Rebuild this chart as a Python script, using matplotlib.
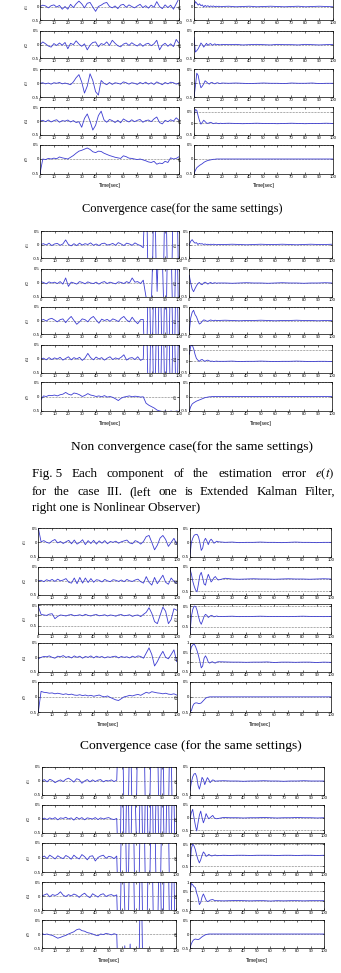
import matplotlib.pyplot as plt
import numpy as np

plt.rcParams['font.family'] = ['Liberation Sans', 'DejaVu Sans']
plt.rcParams['mathtext.fontset'] = 'stix'

W, H = 341, 973

# time grids (EKF sampled every 2 s, observer denser at the start)
t_ekf = np.arange(0, 101, 2)
t_obs = np.concatenate([np.arange(0, 21), np.arange(25, 101, 5)])

# ---------------- panel 1 : convergence case ----------------
p1_ekf_e1 = [0.0, 0.05, 0.02, -0.05, 0.03, 0.06, -0.02, 0.04, -0.1, 0.0,
             -0.1, 0.08, -0.04, 0.1, 0.2, 0.1, -0.05, 0.12, 0.15, -0.02,
             -0.18, 0.0, 0.05, 0.12, 0.15, 0.0, -0.05, 0.02, -0.08, 0.05,
             0.08, -0.03, 0.06, 0.0, -0.05, 0.02, 0.08, -0.04, 0.03, -0.06,
             0.05, -0.03, 0.18, 0.0, -0.08, 0.06, -0.04, 0.05, -0.1, 0.1,
             0.3]
p1_ekf_e2 = [0.0, 0.1, 0.03, -0.05, -0.09, 0.04, -0.03, 0.06, -0.02, 0.08,
             -0.15, 0.05, 0.0, 0.14, 0.02, -0.06, 0.03, -0.19, -0.02, 0.08,
             0.1, -0.08, 0.04, 0.0, 0.1, -0.03, 0.16, 0.05, -0.04, -0.08,
             0.02, 0.06, -0.03, 0.07, 0.0, -0.05, 0.04, -0.06, 0.02, 0.05,
             -0.04, 0.03, 0.16, -0.19, -0.02, 0.05, -0.06, 0.03, -0.07, 0.19,
             0.05]
p1_ekf_e3 = [0.0, 0.02, -0.02, 0.01, -0.03, 0.02, 0.0, 0.03, -0.02, 0.01,
             -0.02, -0.05, 0.05, 0.2, 0.31, 0.05, -0.35, -0.1, 0.34, 0.1,
             -0.3, -0.42, 0.1, 0.0, -0.05, 0.03, -0.04, 0.02, 0.0, -0.03,
             0.05, 0.02, -0.03, 0.02, 0.0, -0.04, 0.03, -0.02, 0.04, -0.03,
             0.02, -0.04, 0.05, 0.0, -0.05, 0.03, -0.02, 0.04, 0.02, -0.03,
             0.0]
p1_ekf_e4 = [0.0, 0.03, -0.02, 0.04, -0.03, 0.02, 0.05, -0.04, 0.02, 0.0,
             0.04, -0.03, 0.02, -0.05, -0.02, -0.22, 0.1, 0.26, 0.0, -0.32,
             -0.15, 0.2, 0.36, 0.05, -0.04, 0.06, 0.02, -0.05, 0.03, -0.06,
             0.08, 0.02, -0.03, 0.05, -0.02, 0.03, 0.06, -0.04, 0.02, 0.04,
             -0.02, 0.08, 0.15, -0.05, -0.1, 0.03, -0.02, 0.05, 0.0, 0.12,
             0.03]
p1_ekf_e5 = [-0.5, 0.0, -0.02, 0.02, 0.0, 0.03, 0.01, 0.07, 0.04, 0.02,
             0.0, 0.06, 0.12, 0.2, 0.27, 0.3, 0.34, 0.38, 0.33, 0.25,
             0.22, 0.27, 0.26, 0.2, 0.16, 0.12, 0.09, 0.06, 0.04, 0.02,
             0.11, 0.08, 0.03, 0.02, 0.0, -0.02, 0.0, -0.03, -0.06, -0.1,
             -0.12, -0.08, -0.18, -0.14, -0.16, -0.08, -0.12, 0.04, 0.0, 0.02,
             0.08]
p1_obs_e1 = [0.0, 0.18, 0.12, 0.05, 0.1, 0.03, 0.06, -0.02, 0.04, 0.0, 0.03,
             -0.01, 0.02, 0.0, 0.02, -0.01, 0.01, 0.0, 0.01, -0.01, 0.0,
             0.01, -0.01, 0.0, 0.01, -0.01, 0.0, 0.01, 0.0, -0.01, 0.0, 0.01, -0.01, 0.0, 0.01, 0.0, -0.01]
p1_obs_e2 = [0.26, -0.27, -0.22, -0.15, -0.05, 0.06, 0.0, -0.09, -0.02, 0.05, -0.03,
             0.02, 0.04, -0.02, 0.0, 0.03, -0.01, 0.01, 0.0, -0.01, 0.01,
             0.0, 0.01, -0.01, 0.0, 0.01, 0.0, -0.01, 0.01, 0.0, 0.0, -0.01, 0.01, 0.0, -0.01, 0.0, 0.01]
p1_obs_e3 = [-0.5, -0.1, 0.36, 0.28, 0.02, -0.16, -0.1, -0.02, 0.09, 0.05, 0.0,
             -0.03, 0.02, 0.03, 0.0, -0.02, 0.01, 0.02, 0.0, -0.01, 0.01,
             0.0, 0.01, 0.0, -0.01, 0.0, 0.01, 0.0, 0.0, -0.01, 0.01, 0.0, 0.0, 0.01, -0.01, 0.0, 0.0]
p1_obs_e4 = [0.39, 0.6, 0.57, 0.32, 0.11, -0.03, 0.05, 0.14, 0.08, 0.02, 0.0,
             0.03, 0.05, 0.02, -0.01, 0.01, 0.02, 0.0, -0.01, 0.01, 0.0,
             0.01, 0.0, -0.01, 0.0, 0.01, 0.0, 0.0, -0.01, 0.0, 0.01, 0.0, -0.01, 0.0, 0.0, 0.01, 0.0]
p1_obs_e5 = [-0.5, -0.39, -0.3, -0.26, -0.22, -0.19, -0.16, -0.12, -0.09, -0.07, -0.05,
             -0.04, -0.03, -0.02, -0.01, -0.01, 0.0, 0.0, 0.0, 0.0, 0.0,
             0.0, 0.0, 0.0, 0.0, 0.0, 0.0, 0.0, 0.0, 0.0, 0.0, 0.0, 0.0, 0.0, 0.0, 0.0, 0.0]

# ---------------- panel 2 : non convergence case ----------------
p2_ekf_e1 = [0.0, 0.03, -0.02, 0.05, -0.04, 0.02, 0.04, -0.03, 0.02, 0.17,
             0.0, -0.05, 0.03, -0.04, 0.05, -0.02, 0.03, 0.0, 0.06, -0.03,
             0.02, -0.04, 0.03, 0.05, -0.02, 0.0, 0.04, -0.03, 0.07, 0.02,
             -0.04, 0.05, 0.02, -0.03, 0.06, 0.0, -0.04, -0.12, 3.0, -3.0,
             -3.0, 3.0, -3.0, -3.0, -3.0, 3.0, -3.0, -3.0, 3.0, 3.0,
             -3.0]
p2_ekf_e2 = [0.05, 0.02, -0.03, 0.04, 0.0, 0.03, -0.02, 0.05, -0.04, 0.18,
             -0.12, 0.03, 0.0, -0.04, 0.05, 0.02, -0.03, 0.04, 0.0, -0.02,
             0.03, -0.04, 0.02, 0.05, -0.02, 0.03, 0.0, -0.03, 0.04, 0.02,
             -0.02, 0.05, 0.0, 0.18, 0.03, 0.05, -0.02, 0.1, -0.5, -0.55,
             -0.5, 3.0, -0.3, 3.0, 0.5, -3.0, 3.0, 1.5, -3.0, 3.0,
             -3.0]
p2_ekf_e3 = [0.0, 0.04, -0.02, 0.05, 0.08, 0.02, -0.05, 0.03, 0.06, -0.08,
             0.05, 0.15, 0.0, -0.14, -0.05, 0.06, 0.03, -0.05, 0.08, 0.15,
             0.02, -0.1, 0.05, 0.0, 0.04, -0.03, 0.06, 0.02, -0.04, 0.08,
             0.15, 0.02, -0.05, 0.12, -0.02, -0.12, 0.03, 0.04, -3.0, 3.0,
             -3.0, 3.0, -3.0, 3.0, -3.0, 3.0, -3.0, 3.0, -3.0, 3.0,
             -3.0]
p2_ekf_e4 = [0.0, 0.03, -0.03, 0.05, -0.02, 0.04, 0.0, 0.06, -0.04, 0.02,
             0.08, -0.03, 0.05, 0.0, 0.06, -0.05, 0.04, 0.2, 0.05, -0.03,
             0.07, 0.0, 0.05, -0.04, 0.03, 0.08, -0.02, 0.04, 0.0, 0.06,
             0.15, -0.04, 0.03, 0.05, -0.02, 0.08, -0.05, 0.0, 3.0, -3.0,
             3.0, -3.0, 3.0, -3.0, 3.0, -3.0, 3.0, -3.0, 3.0, -3.0,
             3.0]
p2_ekf_e5 = [-0.12, 0.02, 0.0, 0.04, 0.03, 0.05, 0.02, 0.06, 0.08, 0.14,
             0.08, 0.05, 0.12, 0.1, 0.06, 0.0, 0.04, 0.1, 0.05, 0.03,
             0.0, 0.02, -0.01, 0.03, -0.02, 0.0, -0.03, -0.08, -0.14, -0.06,
             -0.02, 0.0, 0.02, -0.01, 0.01, 0.0, -0.02, -0.01, -0.23, -0.3,
             -0.35, -0.4, -0.47, -0.5, -0.52, -0.5, -0.55, -0.5, -0.53, -0.5,
             -0.52]
p2_obs_e1 = [0.0, 0.12, 0.18, 0.1, 0.05, 0.07, 0.0, 0.04, 0.02, 0.03, 0.0,
             0.02, 0.0, 0.01, -0.01, 0.01, 0.0, 0.01, 0.0, -0.01, 0.0,
             0.0, 0.01, 0.0, -0.01, 0.0, 0.01, 0.0, 0.0, 0.01, 0.0, -0.01, 0.0, 0.01, 0.0, 0.0, 0.01]
p2_obs_e2 = [0.27, 0.0, -0.22, -0.31, -0.2, -0.1, -0.02, 0.02, -0.04, -0.06, 0.0,
             0.03, 0.0, -0.04, 0.0, 0.02, -0.02, 0.0, 0.01, -0.01, 0.0,
             0.0, -0.01, 0.0, 0.01, 0.0, 0.0, -0.01, 0.0, 0.01, 0.0, 0.0, -0.01, 0.0, 0.0, 0.01, 0.0]
p2_obs_e3 = [-0.4, 0.1, 0.3, 0.38, 0.22, 0.14, 0.0, -0.13, -0.1, -0.03, 0.02,
             0.01, -0.02, -0.03, 0.0, 0.02, 0.0, -0.01, 0.01, 0.0, 0.0,
             0.01, 0.0, -0.01, 0.0, 0.0, 0.01, 0.0, -0.01, 0.0, 0.0, 0.01, 0.0, 0.0, -0.01, 0.0, 0.0]
p2_obs_e4 = [0.3, 0.65, 0.7, 0.55, 0.3, 0.12, 0.05, 0.0, 0.06, 0.08, 0.03,
             0.0, 0.04, 0.05, 0.02, 0.0, 0.01, -0.01, 0.0, 0.01, 0.0,
             0.0, 0.01, -0.01, 0.0, 0.0, 0.01, 0.0, -0.01, 0.0, 0.0, 0.01, 0.0, -0.01, 0.0, 0.0, -0.01]
p2_obs_e5 = [-0.5, -0.35, -0.26, -0.22, -0.19, -0.16, -0.14, -0.12, -0.1, -0.08, -0.06,
             -0.04, -0.03, -0.02, -0.01, -0.01, 0.0, 0.0, 0.0, 0.0, 0.0,
             0.0, 0.0, 0.0, 0.0, 0.0, 0.0, 0.0, 0.0, 0.0, 0.0, 0.0, 0.0, 0.0, 0.0, 0.0, 0.0]

# ---------------- panel 3 : convergence case ----------------
p3_ekf_e1 = [0.5, 0.02, 0.06, 0.0, -0.03, 0.05, 0.1, -0.02, 0.03, -0.04,
             0.02, 0.07, -0.05, 0.08, -0.06, 0.0, 0.09, -0.08, 0.06, -0.04,
             0.07, -0.06, 0.05, -0.03, 0.06, -0.05, 0.03, 0.0, 0.04, -0.03,
             0.02, 0.05, 0.08, -0.02, -0.05, 0.06, 0.02, -0.06, 0.03, 0.2,
             0.24, 0.0, -0.26, -0.1, 0.15, 0.24, 0.1, -0.14, 0.0, 0.14,
             -0.06]
p3_ekf_e2 = [0.0, 0.02, -0.03, 0.04, 0.0, 0.05, -0.02, 0.06, 0.0, 0.03,
             0.08, -0.05, -0.08, 0.1, -0.1, 0.12, -0.08, 0.1, -0.06, 0.08,
             -0.05, 0.04, 0.02, -0.04, 0.05, 0.0, -0.03, 0.04, 0.02, -0.02,
             0.03, -0.03, 0.05, 0.0, -0.02, 0.03, 0.06, -0.03, -0.08, 0.15,
             -0.05, -0.15, 0.12, -0.1, 0.05, 0.2, -0.05, -0.12, 0.1, -0.02,
             -0.08]
p3_ekf_e3 = [0.43, 0.05, 0.02, 0.0, 0.06, 0.08, -0.16, -0.05, 0.02, 0.0,
             -0.03, 0.02, 0.04, -0.02, 0.0, 0.03, -0.02, 0.05, 0.0, -0.03,
             0.02, 0.04, -0.02, 0.0, 0.03, -0.03, 0.02, 0.0, -0.04, 0.02,
             0.04, -0.02, 0.0, 0.03, -0.05, 0.0, 0.02, -0.06, 0.05, 0.15,
             0.37, 0.1, -0.3, -0.4, 0.0, 0.4, 0.2, -0.4, -0.2, 0.32,
             0.25]
p3_ekf_e4 = [-0.05, 0.0, 0.03, 0.02, 0.05, 0.0, -0.03, 0.04, 0.02, 0.06,
             0.0, 0.03, -0.02, 0.05, 0.0, 0.04, -0.03, 0.03, 0.0, 0.05,
             -0.02, 0.04, 0.0, 0.03, -0.02, 0.02, 0.0, 0.03, 0.04, -0.02,
             0.03, 0.0, 0.02, -0.02, 0.04, 0.0, 0.05, 0.03, -0.03, 0.15,
             0.33, 0.1, -0.3, -0.15, 0.05, 0.21, 0.0, -0.05, 0.1, 0.26,
             -0.15]
p3_ekf_e5 = [-0.5, 0.18, 0.15, 0.14, 0.12, 0.13, 0.1, 0.12, 0.1, 0.08,
             0.1, 0.07, 0.09, 0.06, 0.05, 0.07, 0.04, 0.06, 0.03, 0.05,
             0.02, 0.04, 0.06, 0.02, 0.0, 0.03, -0.02, -0.06, -0.1, -0.12,
             -0.06, 0.0, 0.02, 0.05, 0.03, 0.06, 0.08, 0.05, 0.1, 0.15,
             0.12, 0.17, 0.15, 0.13, 0.12, 0.1, 0.12, 0.09, 0.08, 0.1,
             0.06]
p3_obs_e1 = [-0.45, 0.0, 0.15, 0.25, 0.27, 0.28, 0.2, 0.0, -0.28, -0.2, 0.05,
             0.14, 0.05, -0.08, 0.05, 0.11, 0.05, -0.03, 0.0, 0.04, 0.02,
             0.0, 0.01, -0.01, 0.0, 0.0, 0.01, 0.0, 0.0, -0.01, 0.0, 0.01, 0.0, 0.0, -0.01, 0.0, 0.0]
p3_obs_e2 = [0.4, 0.2, -0.1, -0.3, -0.45, -0.52, -0.2, 0.15, 0.27, 0.05, -0.2,
             -0.25, 0.0, 0.19, 0.05, -0.12, -0.05, 0.05, 0.1, 0.02, -0.04,
             0.03, 0.0, -0.01, 0.0, 0.01, 0.0, 0.0, -0.01, 0.0, 0.01, 0.0, 0.0, -0.01, 0.0, 0.01, 0.0]
p3_obs_e3 = [-0.8, 0.0, 0.35, 0.5, 0.48, 0.3, 0.0, -0.25, -0.38, -0.2, 0.0,
             0.1, 0.05, -0.05, 0.0, 0.05, 0.03, -0.02, 0.0, 0.02, 0.0,
             0.0, 0.01, -0.01, 0.0, 0.0, 0.01, 0.0, 0.0, 0.0, -0.01, 0.0, 0.01, 0.0, 0.0, -0.01, 0.0]
p3_obs_e4 = [0.5, 0.8, 0.9, 0.95, 0.8, 0.6, 0.35, 0.05, -0.3, -0.2, 0.2,
             0.33, 0.2, 0.0, -0.05, 0.0, 0.02, -0.03, -0.05, 0.0, 0.02,
             0.01, 0.0, 0.0, -0.01, 0.0, 0.0, 0.01, -0.02, 0.0, 0.0, -0.01, 0.0, 0.0, -0.02, 0.0, -0.01]
p3_obs_e5 = [-0.5, -0.45, -0.3, -0.22, -0.2, -0.2, -0.22, -0.22, -0.2, -0.15, -0.1,
             -0.05, -0.02, -0.01, 0.0, 0.0, 0.0, 0.0, 0.0, 0.0, 0.0,
             0.0, 0.0, 0.0, 0.0, 0.0, 0.0, 0.0, 0.0, 0.0, 0.0, 0.0, 0.0, 0.0, 0.0, 0.0, 0.0]

# ---------------- panel 4 : non convergence case ----------------
p4_ekf_e1 = [0.0, 0.05, -0.03, 0.06, 0.02, -0.06, 0.0, 0.04, -0.02, 0.06,
             0.1, 0.04, -0.04, 0.08, 0.05, -0.08, 0.0, 0.05, -0.03, 0.04,
             -0.02, 0.03, 0.05, -0.03, 0.02, 0.0, 0.04, -0.02, 0.03, 3.0,
             3.0, -3.0, -3.0, 3.0, -3.0, -3.0, 3.0, 3.0, 3.0, -3.0,
             -3.0, 3.0, 3.0, 3.0, -3.0, 3.0, -3.0, -3.0, 3.0, -3.0,
             -3.0]
p4_ekf_e2 = [0.0, 0.03, -0.02, 0.04, 0.0, 0.05, -0.03, 0.04, 0.02, 0.06,
             0.0, 0.04, -0.04, 0.06, 0.0, 0.05, -0.03, 0.04, 0.02, 0.0,
             0.05, -0.02, 0.04, 0.0, 0.03, 0.05, 0.0, -0.02, 0.02, -3.0,
             3.0, -3.0, 3.0, -3.0, 3.0, 0.4, -3.0, 3.0, -3.0, 3.0,
             -3.0, 3.0, -3.0, 3.0, -3.0, 3.0, -3.0, 3.0, -3.0, 3.0,
             -3.0]
p4_ekf_e3 = [0.0, 0.05, -0.04, 0.08, 0.02, -0.05, 0.06, 0.0, -0.04, 0.07,
             0.02, -0.06, 0.08, 0.0, -0.05, 0.1, 0.03, -0.08, 0.04, 0.06,
             -0.12, 0.0, 0.05, 0.08, -0.03, 0.04, 0.02, -0.04, 0.05, -3.0,
             3.0, 3.0, -3.0, 3.0, 3.0, -3.0, -3.0, 3.0, 3.0, -3.0,
             -3.0, 3.0, 3.0, -3.0, -3.0, 3.0, 3.0, 3.0, -3.0, -3.0,
             -3.0]
p4_ekf_e4 = [0.0, 0.04, 0.08, -0.03, 0.05, 0.02, 0.06, 0.15, 0.03, -0.02,
             0.05, 0.0, 0.07, 0.03, -0.05, 0.04, 0.1, 0.0, -0.06, 0.08,
             0.02, -0.04, 0.05, 0.08, -0.02, 0.03, 0.05, 0.0, 0.04, -3.0,
             3.0, -0.45, -3.0, 3.0, 3.0, -3.0, -3.0, 3.0, -3.0, -3.0,
             3.0, 3.0, -3.0, -3.0, 3.0, -3.0, 3.0, 3.0, -3.0, 3.0,
             -3.0]
p4_ekf_e5 = [0.02, -0.02, 0.0, -0.03, -0.05, -0.1, -0.15, -0.12, -0.08, -0.05,
             0.0, 0.04, 0.08, 0.15, 0.18, 0.12, 0.1, 0.05, 0.03, 0.0,
             -0.04, -0.06, 0.0, -0.02, 0.02, 0.0, -0.03, 0.01, -0.02, -3.0,
             -3.0, -0.42, -3.0, -0.36, -3.0, -3.0, -3.0, 3.0, -3.0, -3.0,
             -3.0, -3.0, -3.0, -3.0, -3.0, -3.0, -3.0, -3.0, -3.0, -3.0,
             -3.0]
p4_obs_e1 = [-0.35, -0.05, 0.15, 0.25, 0.27, 0.15, -0.15, -0.29, -0.1, 0.13, 0.05,
             -0.13, 0.0, 0.12, 0.05, -0.06, 0.0, 0.04, 0.02, -0.01, 0.0,
             0.01, 0.0, 0.0, -0.01, 0.0, 0.0, 0.01, 0.0, 0.0, -0.01, 0.0, 0.0, 0.01, 0.0, 0.0, 0.0]
p4_obs_e2 = [-0.05, 0.2, 0.33, 0.0, -0.3, -0.52, -0.2, 0.1, 0.26, 0.0, -0.2,
             -0.05, 0.16, 0.05, -0.04, 0.0, 0.05, 0.09, 0.0, -0.03, -0.04,
             0.01, 0.0, 0.0, -0.01, 0.0, 0.0, 0.01, 0.0, -0.01, 0.0, 0.0, 0.01, 0.0, 0.0, -0.01, 0.0]
p4_obs_e3 = [-0.62, 0.3, 0.5, 0.42, 0.25, 0.0, -0.2, -0.34, -0.2, 0.0, 0.15,
             0.08, -0.05, -0.02, 0.04, 0.0, -0.03, -0.02, 0.0, 0.01, -0.02,
             0.0, -0.01, 0.0, 0.0, -0.01, 0.0, 0.0, 0.0, -0.01, 0.0, 0.0, -0.01, 0.0, 0.0, -0.01, 0.0]
p4_obs_e4 = [0.45, 0.92, 0.85, 0.75, 0.7, 0.4, 0.18, -0.21, -0.1, 0.2, 0.36,
             0.2, 0.03, -0.05, -0.02, 0.03, 0.05, 0.06, 0.02, 0.0, 0.0,
             -0.01, 0.0, 0.01, 0.0, -0.01, 0.0, 0.0, -0.02, 0.0, -0.01, 0.0, 0.0, -0.01, 0.0, 0.0, 0.0]
p4_obs_e5 = [-0.5, -0.35, -0.25, -0.2, -0.18, -0.19, -0.2, -0.18, -0.14, -0.1, -0.07,
             -0.04, -0.02, -0.01, 0.0, 0.0, 0.0, 0.0, 0.0, 0.0, 0.0,
             0.0, 0.0, 0.0, 0.0, 0.0, 0.0, 0.0, 0.0, 0.0, 0.0, 0.0, 0.0, 0.0, 0.0, 0.0, 0.0]

labels = [r'$e_1$', r'$e_2$', r'$e_3$', r'$e_4$', r'$e_5$']
LINE = '#3c3cd2'


def add_ax(x0, x1, y0, y1):
    # pixel box -> figure fraction
    return fig.add_axes([x0 / W, 1 - y1 / H, (x1 - x0) / W, (y1 - y0) / H])


def fmt(v):
    return '0' if v == 0 else ('%g' % v)


def draw(ax, t, y, lim, label, last, hide_top=False):
    ax.plot(t, y, color=LINE, lw=0.6)
    ax.set_xlim(0, 100)
    ax.set_ylim(lim)
    ax.set_xticks(range(0, 101, 10))
    ticks = [v for v in [-0.5, 0, 0.5, 1] if lim[0] - 1e-9 <= v <= lim[1] + 1e-9]
    ax.set_yticks(ticks)
    tl = [fmt(v) for v in ticks]
    if hide_top:
        tl[-1] = ''  # sits above the page edge
    ax.set_yticklabels(tl)
    ax.tick_params(direction='in', length=1.5, width=0.4, labelsize=3.1, pad=0.8,
                   top=True, right=True)
    ax.yaxis.grid(True, ls=':', color='k', lw=0.4)
    ax.set_ylabel(label, fontsize=4, labelpad=0.5)
    for s in ax.spines.values():
        s.set_linewidth(0.5)
    if last:
        ax.set_xlabel('Time[sec]', fontsize=3.6, labelpad=3.5)


def panel(xl, xr, rows, ekf, obs, lim_l, lim_r, cut_top=False):
    for i, (top, bot) in enumerate(rows):
        hide = cut_top and i == 0
        draw(add_ax(xl[0], xl[1], top, bot), t_ekf, ekf[i], lim_l[i], labels[i], i == 4, hide)
        draw(add_ax(xr[0], xr[1], top, bot), t_obs, obs[i], lim_r[i], labels[i], i == 4, hide)


fig = plt.figure(figsize=(W / 100, H / 100), dpi=100)

std = [(-0.5, 0.5)] * 5

panel((40, 179), (194, 333),
      [(-7, 20), (31, 58.3), (69.3, 97.3), (107.3, 135), (144.5, 173.5)],
      [p1_ekf_e1, p1_ekf_e2, p1_ekf_e3, p1_ekf_e4, p1_ekf_e5],
      [p1_obs_e1, p1_obs_e2, p1_obs_e3, p1_obs_e4, p1_obs_e5],
      std, [(-0.5, 0.5), (-0.5, 0.5), (-0.5, 0.5), (-0.5, 0.7), (-0.5, 0.5)], cut_top=True)

panel((40.7, 179.3), (189.3, 332.3),
      [(231, 258), (269, 297), (307, 334), (345, 373), (382, 411)],
      [p2_ekf_e1, p2_ekf_e2, p2_ekf_e3, p2_ekf_e4, p2_ekf_e5],
      [p2_obs_e1, p2_obs_e2, p2_obs_e3, p2_obs_e4, p2_obs_e5],
      std, [(-0.5, 0.5), (-0.5, 0.5), (-0.5, 0.5), (-0.5, 0.7), (-0.5, 0.5)])

panel((38.3, 176.7), (190, 330.7),
      [(528, 556.7), (566.7, 595), (604, 634), (643, 671.7), (681.7, 712)],
      [p3_ekf_e1, p3_ekf_e2, p3_ekf_e3, p3_ekf_e4, p3_ekf_e5],
      [p3_obs_e1, p3_obs_e2, p3_obs_e3, p3_obs_e4, p3_obs_e5],
      [(-0.5, 0.5), (-0.5, 0.5), (-0.9, 0.55), (-0.5, 0.5), (-0.5, 0.5)],
      [(-0.5, 0.5), (-0.65, 0.5), (-0.85, 0.6), (-0.5, 1.0), (-0.5, 0.5)])

panel((41.7, 175.7), (190, 324),
      [(767, 795), (805, 833), (843, 872), (882, 910), (920, 948)],
      [p4_ekf_e1, p4_ekf_e2, p4_ekf_e3, p4_ekf_e4, p4_ekf_e5],
      [p4_obs_e1, p4_obs_e2, p4_obs_e3, p4_obs_e4, p4_obs_e5],
      std, [(-0.5, 0.5), (-0.6, 0.5), (-0.75, 0.55), (-0.5, 1.0), (-0.5, 0.5)])

# captions
SERIF = ['Liberation Serif', 'DejaVu Serif']


def ptext(x, y, s, size, **kw):
    return fig.text(x / W, 1 - y / H, s, family=SERIF, fontsize=size, va='center', **kw)


ptext(182, 209, 'Convergence case(for the same settings)', 8.9, ha='center')
ptext(192, 447, 'Non convergence case(for the same settings)', 9.7, ha='center')
ptext(191, 746, 'Convergence case (for the same settings)', 9.7, ha='center')

# justified figure caption
renderer = fig.canvas.get_renderer()


def justify(words, y, x0, x1, size):
    txts = [ptext(0, y, w, size, ha='left') for w in words]
    widths = [t.get_window_extent(renderer).width for t in txts]
    gap = ((x1 - x0) - sum(widths)) / (len(words) - 1)
    x = x0
    for t, w in zip(txts, widths):
        t.set_x(x / W)
        x += w + gap


cap1 = ['Fig. 5', 'Each', 'component', 'of', 'the', 'estimation', 'error', r'$e(t)$']
cap2 = ['for', 'the', 'case', 'III.', '(left', 'one', 'is', 'Extended', 'Kalman', 'Filter,']
cap3 = 'right one is Nonlinear Observer)'
justify(cap1, 474, 32, 335, 9.4)
justify(cap2, 492, 32, 335, 9.4)
ptext(32, 508, cap3, 9.4, ha='left')

fig.savefig('out.png', dpi=100)
